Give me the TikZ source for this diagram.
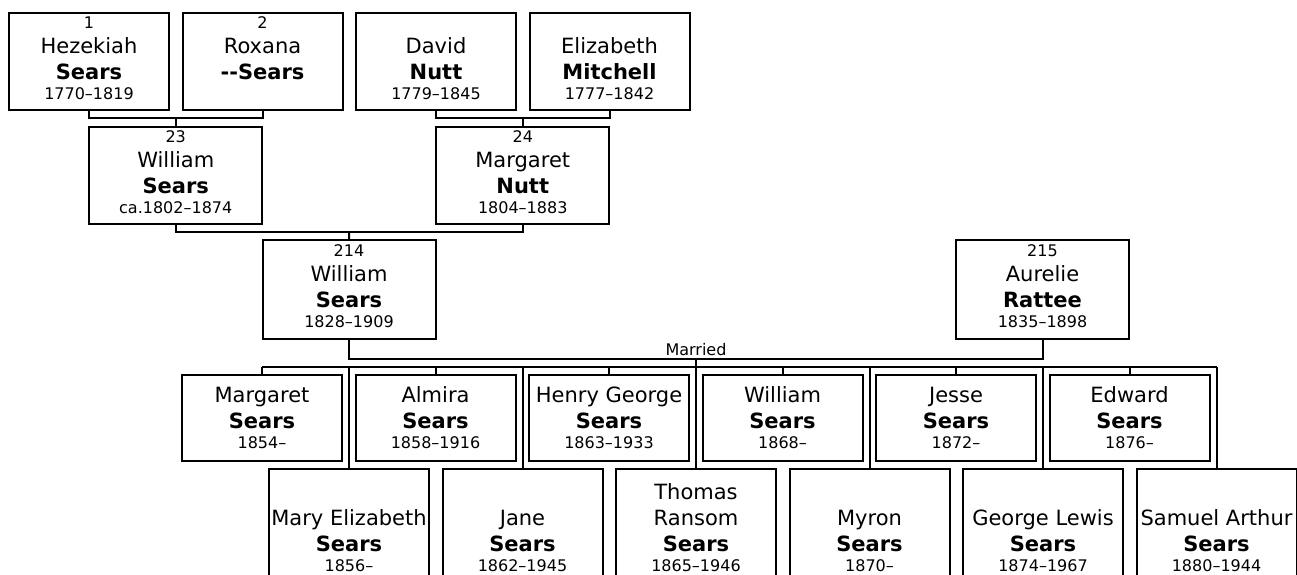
\documentclass[tikz,border=0pt]{standalone}
\usepackage{fontspec}
\setmainfont{DejaVu Sans}
\usetikzlibrary{positioning, calc}
\newcommand{\yrs}[1]{{\fontsize{16}{19}\selectfont #1}}
\newcommand{\gap}{\rule[-6pt]{0pt}{6pt}}

\begin{document}
\begin{tikzpicture}[x=1pt, y=-1pt,
    card/.style={draw, line width=2pt, inner sep=0pt, align=center, minimum width=160pt,
      font=\fontsize{21}{26}\selectfont},
    elder/.style={card, minimum height=97pt},
    parent/.style={card, minimum width=173pt, minimum height=97pt},
    couple/.style={card, minimum width=173pt, minimum height=98.5pt},
    kidtop/.style={card, minimum height=85.4pt},
    kidlow/.style={card, minimum height=116pt},
    link/.style={line width=2pt}
  ]
  \useasboundingbox (0,0) rectangle (1297,574);
  \clip (0,0) rectangle (1297,574);

  % great-grandparents
  \node[elder] (p1) at (89,61)    {\yrs{1}\\[-1pt]Hezekiah\\\textbf{Sears}\\[-6pt]\yrs{1770–1819}\gap};
  \node[elder] (p2) at (262.5,61) {\yrs{2}\\[-1pt]Roxana\\\textbf{-\kern0pt-Sears}\\[-6pt]\yrs{\phantom{1}}\gap};
  \node[elder] (p3) at (436,61)   {\yrs{\phantom{1}}\\[-1pt]David\\\textbf{Nutt}\\[-6pt]\yrs{1779–1845}\gap};
  \node[elder] (p4) at (609.5,61) {\yrs{\phantom{1}}\\[-1pt]Elizabeth\\\textbf{Mitchell}\\[-6pt]\yrs{1777–1842}\gap};

  % grandparents
  \node[parent] (g23) at (175.75,175) {\yrs{23}\\[-1pt]William\\\textbf{Sears}\\[-6pt]\yrs{ca.1802–1874}\gap};
  \node[parent] (g24) at (522.75,175) {\yrs{24}\\[-1pt]Margaret\\\textbf{Nutt}\\[-6pt]\yrs{1804–1883}\gap};

  % the couple
  \node[couple] (w214) at (349,289.5)    {\yrs{214}\\[-1pt]William\\\textbf{Sears}\\[-6pt]\yrs{1828–1909}\gap};
  \node[couple] (a215) at (1042.5,289.5) {\yrs{215}\\[-1pt]Aurelie\\\textbf{Rattee}\\[-6pt]\yrs{1835–1898}\gap};

  % children, upper row
  \node[kidtop] (k1)  at (262,418)    {Margaret\\\textbf{Sears}\\[-6pt]\yrs{1854–}};
  \node[kidtop] (k3)  at (435.5,418)  {Almira\\\textbf{Sears}\\[-6pt]\yrs{1858–1916}};
  \node[kidtop] (k5)  at (609,418)    {Henry George\\\textbf{Sears}\\[-6pt]\yrs{1863–1933}};
  \node[kidtop] (k7)  at (782.5,418)  {William\\\textbf{Sears}\\[-6pt]\yrs{1868–}};
  \node[kidtop] (k9)  at (956,418)    {Jesse\\\textbf{Sears}\\[-6pt]\yrs{1872–}};
  \node[kidtop] (k11) at (1129.5,418) {Edward\\\textbf{Sears}\\[-6pt]\yrs{1876–}};

  % children, lower row
  \node[kidlow] (k2)  at (349,527.3)    {\phantom{Thomas}\\Mary Elizabeth\\\textbf{Sears}\\[-6pt]\yrs{1856–}};
  \node[kidlow] (k4)  at (522.5,527.3)  {\phantom{Thomas}\\Jane\\\textbf{Sears}\\[-6pt]\yrs{1862–1945}};
  \node[kidlow] (k6)  at (696,527.3)    {Thomas\\Ransom\\\textbf{Sears}\\[-6pt]\yrs{1865–1946}};
  \node[kidlow] (k8)  at (869.5,527.3)  {\phantom{Thomas}\\Myron\\\textbf{Sears}\\[-6pt]\yrs{1870–}};
  \node[kidlow] (k10) at (1043,527.3)   {\phantom{Thomas}\\George Lewis\\\textbf{Sears}\\[-6pt]\yrs{1874–1967}};
  \node[kidlow] (k12) at (1216.5,527.3) {\phantom{Thomas}\\Samuel Arthur\\\textbf{Sears}\\[-6pt]\yrs{1880–1944}};

  % parent brackets
  \coordinate (j12) at ($(p1.south)!.5!(p2.south)+(0,7.2)$);
  \coordinate (j34) at ($(p3.south)!.5!(p4.south)+(0,7.2)$);
  \coordinate (j2324) at ($(g23.south)!.5!(g24.south)+(0,7.5)$);
  \draw[link] (p1.south) |- (j12) -| (p2.south);
  \draw[link] (j12) -- (g23.north);
  \draw[link] (p3.south) |- (j34) -| (p4.south);
  \draw[link] (j34) -- (g24.north);
  \draw[link] (g23.south) |- (j2324) -| (g24.south);
  \draw[link] (j2324) -- (w214.north);

  % marriage and children
  \coordinate (wed) at (k6.north |- 0,359.3);
  \coordinate (bar) at (0,366.7);
  \draw[link] (w214.south) |- (wed) -| (a215.south);
  \node[font=\fontsize{16}{19}\selectfont, above, inner sep=3pt] (wedlbl) at (wed) {Married};
  \draw[link] (wed) -- (k6.north);
  \draw[link] (k1.north |- bar) -- (k12.north |- bar);
  \foreach \k in {k1,k2,k3,k4,k5,k7,k8,k9,k10,k11,k12} {
    \draw[link] (\k.north |- bar) -- (\k.north);
  }
\end{tikzpicture}
\end{document}
